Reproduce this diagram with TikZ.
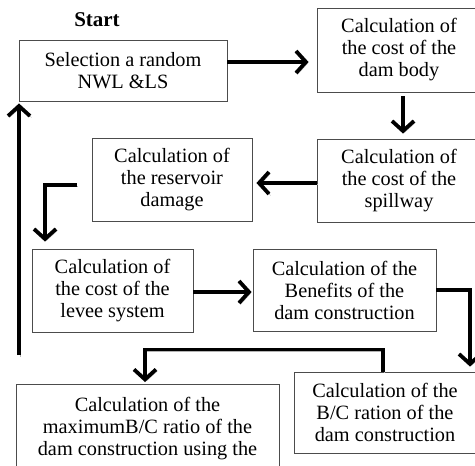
\documentclass[tikz,border=0pt]{standalone}
\usepackage{fontspec}
\setmainfont{Liberation Serif}
\usetikzlibrary{arrows.meta}

\begin{document}
\begin{tikzpicture}[x=1pt,y=-1pt,
  box/.style={draw=black!70, line width=0.9pt, align=center, inner sep=0pt,
    font=\fontsize{20.3}{22}\selectfont},
  flow/.style={draw, line width=3.8pt, -{Straight Barb[length=10pt,width=22pt]},
    preaction={draw=black!30, transform canvas={shift={(1.5pt,-1.5pt)}}}}]
\clip (0,0) rectangle (475,466);
\node[font=\fontsize{21}{24}\selectfont\bfseries] (start) at (97,20) {Start};
\node[box, minimum width=208pt, minimum height=61pt] (select) at (123,70.5) {Selection a random\\NWL \&LS};
\node[box, minimum width=164pt, minimum height=84pt] (body) at (399,50) {Calculation of\\the cost of the\\dam body};
\node[box, minimum width=164pt, minimum height=83pt] (spill) at (399,180.5) {Calculation of\\the cost of the\\spillway};
\node[box, minimum width=160pt, minimum height=83pt] (reserv) at (172,179.5) {Calculation of\\the reservoir\\damage};
\node[box, minimum width=161pt, minimum height=83pt] (levee) at (112.5,290.5) {Calculation of\\the cost of the\\levee system};
\node[box, minimum width=183pt, minimum height=82pt] (benef) at (344.5,290) {Calculation of the\\Benefits of the\\dam construction};
\node[box, minimum width=182pt, minimum height=81pt] (ratio) at (385,412.5) {Calculation of the\\B/C ration of the\\dam construction};
\node[box, minimum width=263pt, anchor=north, inner ysep=13pt] (maxbc) at (147.5,384) {Calculation of the\\maximumB/C ratio of the\\dam construction using the\\\mbox{}};
\coordinate (back) at (19,355);

\path[flow, shorten >=8pt] ([yshift=8.5pt]select.east) -- ([yshift=8.5pt]select.east -| body.west);
\path[flow, shorten <=4pt, shorten >=5pt] ([xshift=4pt]body.south) -- ([xshift=4pt]spill.north);
\path[flow, shorten >=4pt] ([yshift=-2.5pt]spill.west) -- ([yshift=-2.5pt]spill.west -| reserv.east);
\path[flow, shorten >=7pt] ([xshift=-15pt,yshift=-5.5pt]reserv.west) -| ([xshift=-67.5pt]levee.north);
\path[flow, shorten >=1pt] ([yshift=-1.5pt]levee.east) -- ([yshift=-1.5pt]levee.east -| benef.west);
\path[flow, shorten >=5pt] (benef.east) -| ([xshift=85pt]ratio.north);
\path[flow, shorten >=2pt] ([xshift=-2pt]ratio.north) -- ++(0,-22) -| ([xshift=-2.5pt]maxbc.north);
\path[flow, shorten >=2pt] (back) -- (back |- select.south);
\end{tikzpicture}
\end{document}
